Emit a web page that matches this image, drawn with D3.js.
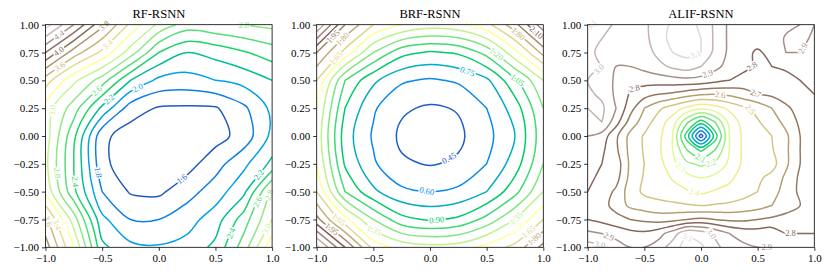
<!DOCTYPE html>
<html>
<head>
<meta charset="utf-8">
<script src="https://cdn.jsdelivr.net/npm/d3@7"></script>
<style>
  body { margin: 0; background: #fff; }
  svg text { font-family: "Liberation Serif", "DejaVu Serif", serif; }
</style>
</head>
<body>
<div id="chart"></div>
<script>
const titles = ["RF-RSNN", "BRF-RSNN", "ALIF-RSNN"];
const xTicks = [-1, -0.5, 0, 0.5, 1];
const yTicks = [1, 0.75, 0.5, 0.25, 0, -0.25, -0.5, -0.75, -1];

// loss surfaces, rows run from y=1 (top) to y=-1
const rfGrid = [
  [4.9, 4.4, 3.85, 3.35, 2.95, 2.7, 2.75, 2.8, 2.85],
  [4.2, 3.7, 3.35, 2.9, 2.4, 2.2, 2.27, 2.38, 2.5],
  [3.5, 3.05, 2.7, 2.2, 1.95, 1.92, 2.0, 2.07, 2.2],
  [3.1, 2.7, 2.15, 1.7, 1.58, 1.57, 1.58, 1.76, 2.05],
  [3.1, 2.45, 1.65, 1.5, 1.48, 1.48, 1.52, 1.68, 2.05],
  [3.05, 2.4, 1.65, 1.48, 1.45, 1.52, 1.72, 1.95, 2.25],
  [3.15, 2.45, 1.8, 1.58, 1.56, 1.72, 1.9, 2.15, 2.85],
  [3.65, 2.9, 2.05, 1.8, 1.8, 1.92, 2.1, 2.5, 3.0],
  [3.9, 3.2, 2.25, 2.05, 2.02, 2.07, 2.25, 2.7, 3.35]
];
const brfGrid = [
  [2.55, 1.95, 1.65, 1.5, 1.42, 1.45, 1.6, 1.9, 2.35],
  [1.95, 1.6, 1.2, 0.95, 0.88, 0.92, 1.1, 1.45, 1.85],
  [1.65, 1.05, 0.78, 0.62, 0.58, 0.62, 0.72, 1.02, 1.35],
  [1.5, 0.9, 0.62, 0.47, 0.43, 0.46, 0.6, 0.82, 1.2],
  [1.45, 0.82, 0.58, 0.42, 0.35, 0.42, 0.55, 0.75, 1.15],
  [1.5, 0.88, 0.62, 0.47, 0.44, 0.47, 0.6, 0.82, 1.2],
  [1.65, 1.05, 0.78, 0.63, 0.6, 0.63, 0.75, 1.0, 1.35],
  [2.0, 1.55, 1.2, 0.95, 0.88, 0.93, 1.1, 1.35, 1.65],
  [2.6, 2.1, 1.6, 1.45, 1.4, 1.42, 1.55, 1.7, 2.0]
];
const alifGrid = [
  [3.12, 3.05, 2.98, 2.95, 2.98, 3.05, 3.12, 3.14, 3.08, 2.98, 2.88, 2.86, 2.85, 2.86, 2.88, 2.9, 2.9],
  [3.05, 3.0, 2.95, 2.93, 2.97, 3.06, 3.13, 3.15, 3.1, 2.98, 2.88, 2.84, 2.83, 2.85, 2.91, 2.93, 2.88],
  [3.02, 2.98, 2.93, 2.92, 2.95, 3.03, 3.1, 3.13, 3.1, 2.97, 2.88, 2.82, 2.79, 2.82, 2.9, 2.9, 2.86],
  [3.02, 3.0, 2.9, 2.9, 2.93, 2.97, 3.02, 3.05, 3.0, 2.93, 2.86, 2.83, 2.78, 2.8, 2.82, 2.85, 2.84],
  [3.0, 2.97, 2.88, 2.82, 2.84, 2.85, 2.86, 2.87, 2.86, 2.83, 2.8, 2.76, 2.74, 2.77, 2.76, 2.8, 2.82],
  [3.02, 2.98, 2.88, 2.79, 2.74, 2.7, 2.68, 2.64, 2.61, 2.6, 2.62, 2.66, 2.7, 2.72, 2.75, 2.77, 2.8],
  [3.0, 3.02, 2.9, 2.74, 2.6, 2.52, 2.45, 2.38, 2.32, 2.36, 2.42, 2.48, 2.53, 2.6, 2.68, 2.74, 2.78],
  [2.97, 3.0, 2.84, 2.66, 2.55, 2.45, 2.35, 2.12, 1.95, 2.1, 2.33, 2.44, 2.49, 2.55, 2.63, 2.72, 2.76],
  [2.9, 2.86, 2.72, 2.57, 2.49, 2.43, 2.3, 1.95, 1.55, 1.95, 2.3, 2.42, 2.46, 2.5, 2.58, 2.7, 2.76],
  [2.86, 2.82, 2.72, 2.57, 2.49, 2.42, 2.3, 2.1, 1.98, 2.1, 2.3, 2.42, 2.46, 2.49, 2.58, 2.7, 2.77],
  [2.84, 2.8, 2.76, 2.58, 2.5, 2.44, 2.33, 2.22, 2.18, 2.22, 2.32, 2.42, 2.47, 2.46, 2.58, 2.7, 2.78],
  [2.82, 2.78, 2.74, 2.57, 2.49, 2.46, 2.39, 2.34, 2.3, 2.33, 2.38, 2.44, 2.48, 2.53, 2.62, 2.72, 2.78],
  [2.8, 2.76, 2.68, 2.55, 2.48, 2.46, 2.44, 2.41, 2.38, 2.41, 2.43, 2.46, 2.5, 2.56, 2.64, 2.72, 2.78],
  [2.78, 2.74, 2.66, 2.58, 2.55, 2.53, 2.52, 2.51, 2.5, 2.51, 2.52, 2.54, 2.56, 2.6, 2.65, 2.7, 2.76],
  [2.8, 2.77, 2.74, 2.7, 2.68, 2.66, 2.67, 2.7, 2.72, 2.7, 2.68, 2.68, 2.7, 2.72, 2.74, 2.76, 2.78],
  [2.92, 2.9, 2.86, 2.83, 2.82, 2.86, 2.95, 3.08, 3.05, 2.98, 2.9, 2.86, 2.85, 2.86, 2.8, 2.8, 2.8],
  [3.05, 3.02, 2.95, 2.9, 2.9, 2.95, 3.05, 3.15, 3.12, 3.03, 2.95, 2.92, 2.9, 2.9, 2.86, 2.84, 2.83]
];

const rfLevels = [1.4, 1.6, 1.8, 2.0, 2.2, 2.4, 2.6, 2.8, 3.0, 3.2, 3.4, 3.6, 3.8, 4.0, 4.2, 4.4, 4.6, 4.8, 5.0];
const brfLevels = [0.30, 0.45, 0.60, 0.75, 0.90, 1.05, 1.20, 1.35, 1.50, 1.65, 1.80, 1.95, 2.10, 2.25, 2.40, 2.55, 2.70];
const alifLevels = [1.5, 1.6, 1.7, 1.8, 1.9, 2.0, 2.1, 2.2, 2.3, 2.4, 2.5, 2.6, 2.7, 2.8, 2.9, 3.0, 3.1, 3.2];

// inline contour labels: [level, x, y]
const rfLabels = [
  [1.6, 0.16, -0.33], [1.8, -0.55, -0.33], [2.0, -0.19, 0.44], [2.2, -0.43, 0.32],
  [2.6, -0.55, 0.41], [3.0, -0.93, 0.23], [3.4, -0.43, 0.8], [3.6, -0.89, 0.65],
  [3.8, -0.46, 0.97], [4.0, -0.93, 0.83], [4.4, -0.89, 0.92], [2.8, 0.72, 0.97],
  [2.2, 0.87, -0.34], [2.6, 0.87, -0.59], [2.8, 0.95, -0.52], [2.4, 0.63, -0.87],
  [3.0, 0.93, -0.82], [2.8, -0.89, -0.33], [2.4, -0.74, -0.41], [3.6, -0.96, -0.76],
  [3.4, -0.86, -0.78], [3.2, -0.77, -0.78]
];
const brfLabels = [
  [0.45, 0.18, -0.22], [0.60, -0.03, -0.51], [0.75, 0.33, 0.58], [0.90, 0.06, -0.76],
  [1.05, 0.77, 0.5], [1.20, 0.56, 0.7], [1.35, -0.5, -0.86], [1.35, 0.75, -0.73],
  [1.50, 0.77, -0.82], [1.65, 0.86, -0.85], [1.80, 0.9, -0.9], [1.50, 0.35, 0.94],
  [1.80, 0.77, 0.91], [2.10, 0.93, 0.92], [1.50, -0.94, 0.38], [1.65, -0.81, 0.68],
  [1.80, -0.78, 0.88], [1.95, -0.88, 0.92], [1.65, -0.85, -0.8], [1.95, -0.9, -0.88]
];
const alifLabels = [
  [2.1, -0.07, -0.31], [2.2, 0.11, -0.31], [2.3, -0.21, -0.31], [2.4, -0.07, -0.55],
  [2.5, 0.46, 0.26], [2.6, 0.17, 0.37], [2.7, 0.49, 0.4], [2.8, 0.52, 0.58],
  [2.8, -0.58, 0.4], [2.8, 0.79, -0.88], [2.9, 0.05, 0.58], [2.9, 0.88, 0.8],
  [2.9, -0.79, -0.85], [2.9, 0.58, -0.97], [3.0, -0.92, 0.62], [3.0, -0.89, -0.97],
  [3.0, 0.09, -0.88], [3.1, -0.07, 0.79], [3.1, -0.92, 0.98], [3.1, -0.12, -0.91]
];

const W = 830, H = 274;
const lefts = [45.5, 316.7, 587.7], panelTop = 24.7;
const pw = 226.6, ph = 222.6;

const svg = d3.select("#chart").append("svg")
  .attr("width", W).attr("height", H);

const x = d3.scaleLinear().domain([-1, 1]).range([0, pw]);
const y = d3.scaleLinear().domain([-1, 1]).range([ph, 0]);

// matplotlib "terrain"
const terrain = d3.scaleLinear()
  .domain([0, 0.15, 0.25, 0.5, 0.75, 1])
  .range(["#333399", "#0099ff", "#00cc66", "#ffff99", "#805c54", "#ffffff"]);

const closedLine = d3.line().curve(d3.curveCatmullRomClosed.alpha(0.5));
const openLine = d3.line().curve(d3.curveCatmullRom.alpha(0.5));

function panel(i, grid, levels, spots, fmt) {
  const g = svg.append("g").attr("transform", `translate(${lefts[i]},${panelTop})`);
  const rows = grid.length, cols = grid[0].length;
  const gx = v => x(-1 + (v - 0.5) * 2 / (cols - 1));
  const gy = v => y(1 - (v - 0.5) * 2 / (rows - 1));
  const lo = levels[0], hi = levels[levels.length - 1];
  const color = v => terrain((v - lo) / (hi - lo));

  const contours = d3.contours().size([cols, rows]).thresholds(levels)(grid.flat());
  const onEdge = p => p[0] <= 0 || p[0] >= cols || p[1] <= 0 || p[1] >= rows;

  // split rings into the visible pieces (drop the parts d3 runs along the border)
  const runs = [];
  contours.forEach(c => {
    c.coordinates.forEach(poly => poly.forEach(ring => {
      const pts = ring.slice(0, -1);
      const k = pts.findIndex(onEdge);
      if (k < 0) {
        runs.push({ v: c.value, closed: true, pts: pts.map(p => [gx(p[0]), gy(p[1])]) });
        return;
      }
      const rot = pts.slice(k).concat(pts.slice(0, k + 1));
      let cur = [];
      rot.forEach(p => {
        if (onEdge(p)) {
          if (cur.length > 1) runs.push({ v: c.value, closed: false, pts: cur });
          cur = [];
        } else cur.push([gx(p[0]), gy(p[1])]);
      });
    }));
  });

  g.append("clipPath").attr("id", "clip" + i)
    .append("rect").attr("width", pw).attr("height", ph);

  g.append("g").attr("clip-path", `url(#clip${i})`)
    .selectAll("path").data(runs).join("path")
    .attr("d", r => (r.closed ? closedLine : openLine)(r.pts))
    .attr("fill", "none")
    .attr("stroke", r => color(r.v))
    .attr("stroke-width", 1.5)
    .attr("stroke-linejoin", "round");

  // labels
  const lab = g.append("g");
  spots.forEach(([lev, lx, ly]) => {
    const tx = x(lx), ty = y(ly);
    let best = null;
    runs.filter(r => Math.abs(r.v - lev) < 1e-6).forEach(r => {
      const p = r.closed ? r.pts.concat([r.pts[0]]) : r.pts;
      for (let j = 0; j < p.length - 1; j++) {
        const [ax, ay] = p[j], [bx, by] = p[j + 1];
        const dx = bx - ax, dy = by - ay, L = dx * dx + dy * dy || 1;
        const t = Math.max(0, Math.min(1, ((tx - ax) * dx + (ty - ay) * dy) / L));
        const qx = ax + t * dx, qy = ay + t * dy;
        const d = Math.hypot(qx - tx, qy - ty);
        if (!best || d < best.d) best = { d, qx, qy, a: Math.atan2(dy, dx) * 180 / Math.PI };
      }
    });
    if (!best || best.d > 25) return;
    let a = best.a;
    if (a > 90) a -= 180;
    if (a < -90) a += 180;
    lab.append("text")
      .attr("transform", `translate(${best.qx},${best.qy}) rotate(${a})`)
      .attr("text-anchor", "middle")
      .attr("dy", "0.33em")
      .attr("font-size", 8.5)
      .attr("fill", color(lev))
      .attr("stroke", "#fff")
      .attr("stroke-width", 3)
      .attr("paint-order", "stroke")
      .text(fmt(lev));
  });

  // axes
  const xAxis = g.append("g").attr("transform", `translate(0,${ph})`)
    .call(d3.axisBottom(x).tickValues(xTicks).tickFormat(d3.format(".1f")).tickSizeOuter(0).tickSize(3.5));
  const yAxis = g.append("g")
    .call(d3.axisLeft(y).tickValues(yTicks).tickFormat(d3.format(".2f")).tickSizeOuter(0).tickSize(3.5));
  [xAxis, yAxis].forEach(a => {
    a.select(".domain").remove();
    a.selectAll("line").attr("stroke", "#000").attr("stroke-width", 0.8);
    a.selectAll("text").attr("font-size", 11).attr("fill", "#000")
      .style("font-family", '"Liberation Serif", serif');
  });

  g.append("rect").attr("width", pw).attr("height", ph)
    .attr("fill", "none").attr("stroke", "#000").attr("stroke-width", 0.8);

  g.append("text")
    .attr("x", pw / 2).attr("y", -7)
    .attr("text-anchor", "middle")
    .attr("font-size", 12.5)
    .text(titles[i]);
}

panel(0, rfGrid, rfLevels, rfLabels, d3.format(".1f"));
panel(1, brfGrid, brfLevels, brfLabels, d3.format(".2f"));
panel(2, alifGrid, alifLevels, alifLabels, d3.format(".1f"));
</script>
</body>
</html>
